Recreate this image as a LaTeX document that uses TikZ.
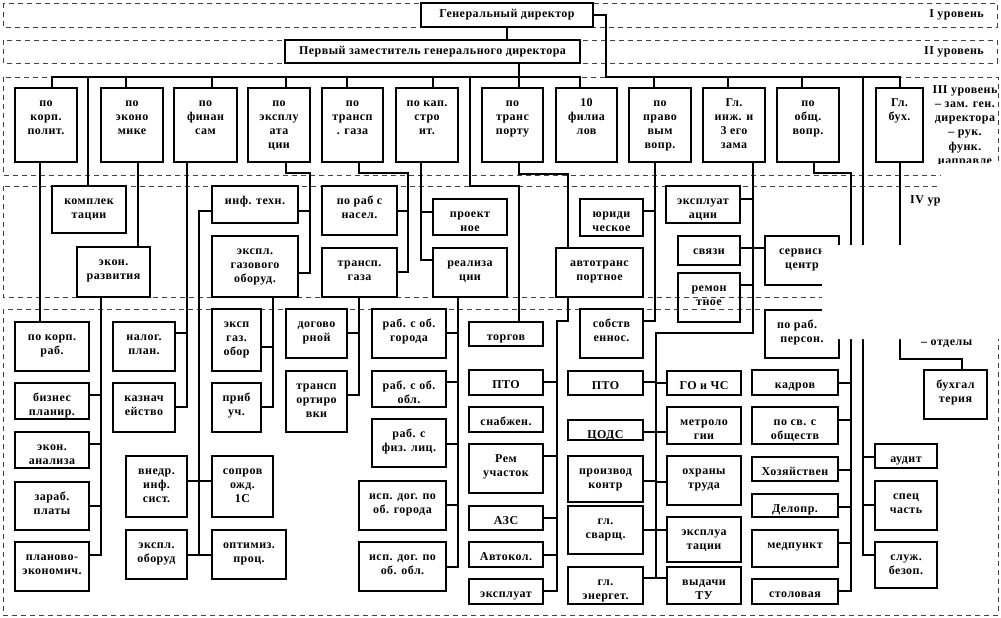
\documentclass[tikz,border=0pt]{standalone}
\usepackage{fontspec}
\setmainfont{Liberation Serif}[LetterSpace=4]
\tikzset{
 box/.style={draw, line width=1.8pt, inner sep=0pt, outer sep=0pt, font=\bfseries\fontsize{12}{14.3}\selectfont},
 conn/.style={line width=1.8pt, line cap=rect},
 band/.style={draw=black!75, line width=0.9pt, dash pattern=on 5pt off 4pt},
 lvl/.style={font=\bfseries\fontsize{12}{14.3}\selectfont, inner sep=0pt, align=center},
}
\newcommand\bx[6]{\node[box] (#1) at ({(#2+#4)/2},{(#3+#5)/2}) {\parbox[c][\dimexpr#5pt-#3pt\relax][t]{\dimexpr#4pt-#2pt\relax}{\centering\vspace*{8pt}\strut#6\par}};}
\begin{document}
\begin{tikzpicture}[x=1pt,y=-1pt]
\useasboundingbox (0,0) rectangle (1001,618);
\fill[white] (0,0) rectangle (1001,618);
% bands
\draw[band] (3,3) rectangle (997,27);
\draw[band] (3,40) rectangle (997,63);
\draw[band] (3,77) rectangle (998,175);
\draw[band] (3,186) rectangle (998,297);
\draw[band] (3,309) rectangle (998,615);
% level I, II
\node[box, minimum width=172pt, minimum height=24pt] (gd) at (507,15) {Генеральный директор};
\node[box, minimum width=295pt, minimum height=23pt] (pz) at (432.5,51.5) {Первый заместитель генерального директора};
% level III
\bx{k1}{15}{88}{77}{162}{по\\корп.\\полит.}
\bx{k2}{101}{88}{163}{162}{по\\эконо\\мике}
\bx{k3}{174}{88}{237}{162}{по\\финан\\сам}
\bx{k4}{248}{88}{310}{162}{по\\эксплу\\ата\\ции}
\bx{k5}{322}{88}{383}{162}{по\\трансп\\. газа}
\bx{k6}{396}{88}{458}{162}{по кап.\\стро\\ит.}
\bx{k7}{482}{88}{543}{162}{по\\транс\\порту}
\bx{k8}{556}{88}{617}{162}{10\\филиа\\лов}
\bx{k9}{629}{88}{691}{162}{по\\право\\вым\\вопр.}
\bx{k10}{703}{88}{765}{162}{Гл.\\инж. и\\3 его\\зама}
\bx{k11}{777}{88}{839}{162}{по\\общ.\\вопр.}
\bx{k12}{876}{88}{923}{162}{Гл.\\бух.}
% level IV / V : economy
\bx{kompl}{52}{186}{126}{233}{комплек\\тации}
\bx{er}{77}{247}{150}{297}{экон.\\развития}
\bx{kr}{15}{322}{89}{371}{по корп.\\раб.}
\bx{bp}{15}{383}{89}{419}{бизнес\\планир.}
\bx{ea}{15}{432}{89}{468}{экон.\\анализа}
\bx{zp}{15}{482}{89}{530}{зараб.\\платы}
\bx{pe}{15}{542}{89}{591}{планово-\\экономич.}
\bx{np}{113}{322}{175}{371}{налог.\\план.}
\bx{kz}{113}{383}{175}{432}{казнач\\ейство}
\bx{vn}{126}{456}{187}{517}{внедр.\\инф.\\сист.}
\bx{eo}{126}{530}{187}{579}{экспл.\\оборуд}
\bx{so}{212}{456}{273}{517}{сопров\\ожд.\\1С}
\bx{op}{212}{530}{286}{579}{оптимиз.\\проц.}
\bx{it}{212}{186}{298}{223}{инф. техн.}
\bx{eg}{212}{236}{298}{297}{экспл.\\газового\\оборуд.}
\bx{gz}{212}{309}{261}{371}{эксп\\газ.\\обор}
\bx{pu}{212}{383}{261}{432}{приб\\уч.}
\bx{rn}{322}{186}{397}{235}{по раб с\\насел.}
\bx{tg}{322}{248}{397}{297}{трансп.\\газа}
\bx{dg}{286}{309}{347}{358}{догово\\рной}
\bx{tr}{286}{371}{347}{432}{трансп\\ортиро\\вки}
\bx{pr}{433}{199}{507}{235}{проект\\ное}
\bx{rl}{433}{248}{507}{297}{реализа\\ции}
\bx{og}{372}{309}{446}{358}{раб. с об.\\города}
\bx{oo}{372}{371}{446}{407}{раб. с об.\\обл.}
\bx{fl}{372}{419}{446}{467}{раб. с\\физ. лиц.}
\bx{dgo}{359}{481}{446}{530}{исп. дог. по\\об. города}
\bx{dgb}{359}{542}{446}{591}{исп. дог. по\\об. обл.}
\bx{tv}{469}{322}{543}{346}{торгов}
\bx{at}{556}{248}{643}{297}{автотранс\\портное}
\bx{pt1}{469}{370}{543}{395}{ПТО}
\bx{sn}{469}{407}{543}{432}{снабжен.}
\bx{ru}{469}{444}{543}{493}{Рем\\участок}
\bx{az}{469}{506}{543}{530}{АЗС}
\bx{ak}{469}{542}{543}{567}{Автокол.}
\bx{ek}{469}{579}{543}{604}{эксплуат}
\bx{yu}{580}{199}{643}{236}{юриди\\ческое}
\bx{sb}{580}{309}{643}{358}{собств\\еннос.}
\bx{ex}{666}{186}{740}{223}{эксплуат\\ации}
\bx{sv}{678}{236}{740}{265}{связи}
\bx{rm}{678}{273}{740}{322}{ремон\\тное}
\bx{sc}{765}{236}{839}{285}{сервисн\\центр}
\bx{pt2}{568}{371}{643}{395}{ПТО}
\bx{cd}{568}{420}{643}{440}{ЦОДС}
\bx{pk}{568}{456}{643}{502}{производ\\контр}
\bx{gs}{568}{506}{643}{554}{гл.\\сварщ.}
\bx{ge}{568}{567}{643}{604}{гл.\\энергет.}
\bx{go}{667}{371}{741}{395}{ГО и ЧС}
\bx{mt}{667}{407}{741}{444}{метроло\\гии}
\bx{ot}{667}{456}{741}{505}{охраны\\труда}
\bx{ec}{667}{517}{741}{562}{эксплуа\\тации}
\bx{vt}{667}{567}{741}{604}{выдачи\\ТУ}
\bx{pp}{765}{310}{839}{358}{по раб. с\\персон.}
\bx{kd}{752}{370}{838}{395}{кадров}
\bx{ps}{752}{407}{838}{444}{по св. с\\обществ}
\bx{hz}{752}{457}{838}{481}{Хозяйствен}
\bx{dl}{752}{494}{838}{517}{Делопр.}
\bx{md}{752}{530}{838}{567}{медпункт}
\bx{st}{752}{579}{838}{604}{столовая}
\bx{au}{875}{444}{937}{468}{аудит}
\bx{sp}{875}{481}{937}{530}{спец\\часть}
\bx{sz}{875}{542}{937}{588}{служ.\\безоп.}
\bx{bh}{924}{370}{987}{419}{бухгал\\терия}
% top connectors
\draw[conn] (gd.south -| 507,0) -- (pz.north -| 507,0);
\draw[conn] (pz.south -| 519,0) -- (519,77);
\draw[conn] (52,77) -- (580,77);
\foreach \n/\x in {k1/52,k2/126,k3/212,k4/286,k5/347,k6/433,k7/519,k8/580}
  \draw[conn] (\x,77) -- (\n.north -| \x,0);
\draw[conn] (88,77) -- (kompl.north -| 88,0);
\draw[conn] (470,77) -- (470,186) -- (519,186) -- (tv.north -| 519,0);
\draw[conn] (gd.east) -- (gd.east -| 606,0) -- (606,77) -- (900,77);
\foreach \n/\x in {k9/654,k10/728,k11/802,k12/900}
  \draw[conn] (\x,77) -- (\n.north -| \x,0);
\draw[conn] (863,77) -- (863,555);
% economy
\draw[conn] (k1.south -| 40,0) -- (kr.north -| 40,0);
\draw[conn] (k2.south -| 138,0) -- (er.north -| 138,0);
\draw[conn] (er.south -| 101,0) -- (101,555);
\foreach \n/\y in {bp/395,ea/444,zp/506,pe/555}
  \draw[conn] (\n.east |- 0,\y) -- (101,\y);
% finance
\draw[conn] (k3.south -| 187,0) -- (187,407);
\draw[conn] (np.east |- 0,333) -- (187,333);
\draw[conn] (kz.east |- 0,407) -- (187,407);
% exploitation
\draw[conn] (k4.south -| 286,0) -- (286,173) -- (310,173) -- (310,273);
\draw[conn] (it.east |- 0,211) -- (310,211);
\draw[conn] (eg.east |- 0,273) -- (310,273);
\draw[conn] (it.west |- 0,211) -- (199,211) -- (199,555);
\draw[conn] (vn.east |- 0,481) -- (so.west |- 0,481);
\draw[conn] (eo.east |- 0,555) -- (op.west |- 0,555);
\draw[conn] (eg.south -| 273,0) -- (273,407);
\draw[conn] (gz.east |- 0,347) -- (273,347);
\draw[conn] (pu.east |- 0,407) -- (273,407);
% gas transport
\draw[conn] (k5.south -| 359,0) -- (359,173) -- (408,173) -- (408,272);
\draw[conn] (rn.east |- 0,211) -- (408,211);
\draw[conn] (tg.east |- 0,272) -- (408,272);
\draw[conn] (tg.south -| 359,0) -- (359,395);
\draw[conn] (dg.east |- 0,333) -- (359,333);
\draw[conn] (tr.east |- 0,395) -- (359,395);
% capital construction
\draw[conn] (k6.south -| 421,0) -- (421,260);
\draw[conn] (421,212) -- (pr.west |- 0,212);
\draw[conn] (421,260) -- (rl.west |- 0,260);
\draw[conn] (rl.south -| 458,0) -- (458,567);
\foreach \n/\y in {og/333,oo/382,fl/444,dgo/505,dgb/567}
  \draw[conn] (\n.east |- 0,\y) -- (458,\y);
% transport
\draw[conn] (k7.south -| 519,0) -- (519,174) -- (568,174) -- (at.north -| 568,0);
\draw[conn] (at.south -| 568,0) -- (568,321) -- (557,321) -- (557,591);
\foreach \n/\y in {pt1/382,ru/456,az/518,ak/555,ek/591}
  \draw[conn] (\n.east |- 0,\y) -- (557,\y);
% legal
\draw[conn] (k9.south -| 655,0) -- (655,321);
\draw[conn] (yu.east |- 0,211) -- (655,211);
\draw[conn] (sb.east |- 0,321) -- (655,321);
% chief engineer
\draw[conn] (k10.south -| 753,0) -- (753,333) -- (656,333) -- (656,578);
\draw[conn] (ex.east |- 0,199) -- (753,199);
\draw[conn] (sv.east |- 0,248) -- (sc.west |- 0,248);
\draw[conn] (rm.east |- 0,285) -- (753,285);
\foreach \n/\y in {pt2/382,cd/432,pk/481,gs/530,ge/578}
  \draw[conn] (\n.east |- 0,\y) -- (656,\y);
\foreach \n/\y in {go/383,mt/432,ot/482,ec/530,vt/578}
  \draw[conn] (656,\y) -- (\n.west |- 0,\y);
% general questions
\draw[conn] (k11.south -| 814,0) -- (814,173) -- (851,173) -- (851,591);
\draw[conn] (pp.east |- 0,333) -- (851,333);
\foreach \n/\y in {kd/383,ps/420,hz/470,dl/507,md/543,st/591}
  \draw[conn] (\n.east |- 0,\y) -- (851,\y);
% general director departments
\foreach \n/\y in {au/457,sp/505,sz/555}
  \draw[conn] (863,\y) -- (\n.west |- 0,\y);
% chief accountant
\draw[conn] (k12.south -| 900,0) -- (900,359) -- (962,359) -- (bh.north -| 962,0);
% level labels
\node[lvl, anchor=east] (l1) at (984,15) {I уровень};
\node[lvl, anchor=east] (l2) at (984,52) {II уровень};
\node[lvl, anchor=north] (l3) at (965,85) {III уровень\\– зам. ген.\\директора\\– рук.\\функ.\\направле};
\node[lvl, anchor=west] (l4) at (910,201) {IV уровень};
\node[lvl, anchor=west] (l5) at (921,344) {– отделы};
% blank patch of the original
\fill[white] (941,163) -- (1005,163) -- (1005,339) -- (822,339) -- (822,245) -- (941,245) -- cycle;
\end{tikzpicture}
\end{document}
